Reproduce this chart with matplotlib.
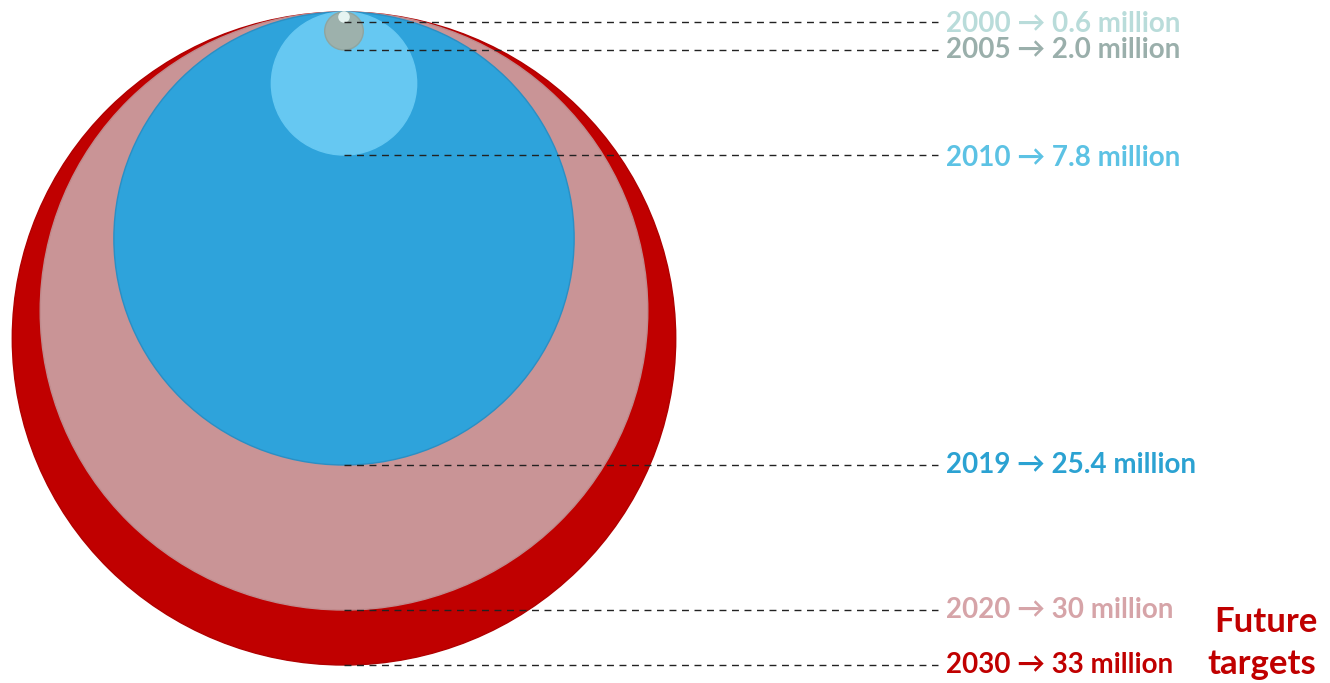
import matplotlib
matplotlib.use("Agg")
import matplotlib.pyplot as plt
from matplotlib.patches import Ellipse

years = ["2000", "2005", "2010", "2019", "2020", "2030"]
values = ["0.6", "2.0", "7.8", "25.4", "30", "33"]
# circle diameters (pixel units)
diameters = [10, 38, 143, 453, 598, 653]
fill_colors = ["#E6F4F2", "#9DB1AC", "#66C8F2", "#2EA3DB", "#C99496", "#C00000"]
edge_colors = ["#E6F4F2", "#8FA5A0", "#66C8F2", "#2A8FC4", "#C08A8C", "#B00000"]
text_colors = ["#B9DCDA", "#9AAFAB", "#5CC2E4", "#2BA2D2", "#D6A4A8", "#C00000"]
label_y_offset = [2, 0, 3, 0, 0, 0]

W, H = 1330, 683
fig = plt.figure(figsize=(W / 100, H / 100), dpi=100)
ax = fig.add_axes([0, 0, 1, 1])
ax.set_xlim(0, W)
ax.set_ylim(H, 0)
ax.axis("off")

cx, top = 344, 12
xstretch = 1.016
# draw largest first
for d, fc, ec in sorted(zip(diameters, fill_colors, edge_colors), key=lambda t: -t[0]):
    ax.add_patch(Ellipse((cx, top + d / 2), d * xstretch, d, facecolor=fc,
                         edgecolor=ec, linewidth=1.0, zorder=2))

font = "Lato"
for yr, v, d, tc, off in zip(years, values, diameters, text_colors, label_y_offset):
    ybot = top + d
    ax.plot([cx, 938], [ybot, ybot], color="#222222", linestyle=(0, (5, 4)),
            linewidth=1.0, zorder=3)
    ax.text(946, ybot + off, f"{yr} \u2192 {v} million", color=tc, fontsize=20,
            fontweight="bold", family=[font, "DejaVu Sans"], va="center", ha="left",
            zorder=4)

ax.text(1266, 622, "Future", color="#C00000", fontsize=25, fontweight="bold",
        family=font, va="center", ha="center")
ax.text(1262, 664, "targets", color="#C00000", fontsize=25, fontweight="bold",
        family=font, va="center", ha="center")

fig.savefig("out.png", dpi=100)
